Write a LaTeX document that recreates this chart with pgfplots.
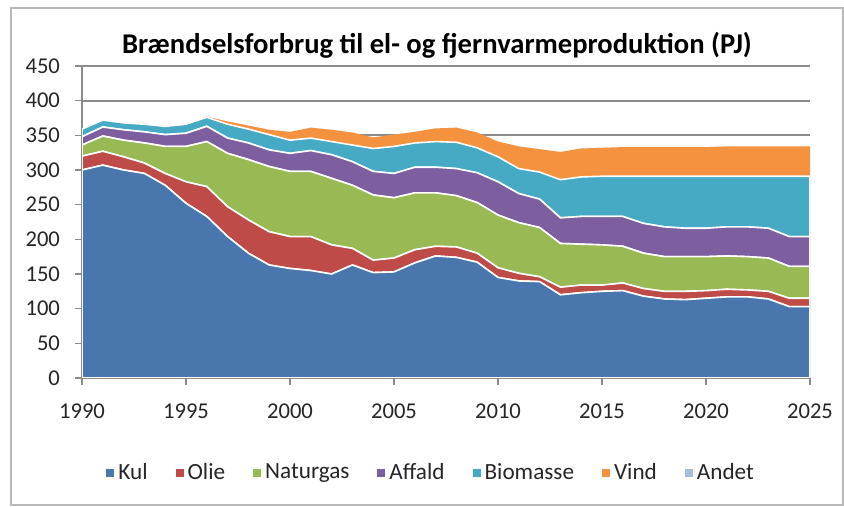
\documentclass[border=0pt]{standalone}
\usepackage{pgfplots}
\usepackage{pgfplotstable}
\pgfplotsset{compat=1.18}
\usepackage{fontspec}
\setmainfont{Carlito}
\definecolor{cKul}{HTML}{4A76AE}
\definecolor{cOlie}{HTML}{BE4B48}
\definecolor{cGas}{HTML}{98B954}
\definecolor{cAff}{HTML}{7D5FA0}
\definecolor{cBio}{HTML}{46AAC5}
\definecolor{cVind}{HTML}{F59240}
\definecolor{cAndet}{HTML}{A5BEDD}
\definecolor{gridc}{HTML}{8C8C8C}
\definecolor{txt}{HTML}{262626}
\pgfplotstableread{
year kul olie gas aff bio vind andet
1990 300 20 16 12 11 0 0
1991 307 20 22 13 10 0 0
1992 300 19 24 15 10 0 0
1993 295 15 29 16 11 0 0
1994 278 17 39 17 12 0 0
1995 252 31 51 19 13 0 0
1996 233 43 65 22 13 1 0
1997 204 43 77 22 20 4 0
1998 180 48 87 24 20 5 0
1999 163 48 94 24 22 7 0
2000 158 46 94 26 19 12 0
2001 155 49 94 30 18 15 0
2002 150 42 96 34 19 17 0
2003 163 24 91 34 24 18 0
2004 152 18 94 34 33 16 0
2005 153 20 87 35 39 17 0
2006 166 19 82 37 35 16 0
2007 176 14 77 37 37 19 0
2008 174 15 74 39 38 21 0
2009 167 13 73 43 36 22 0
2010 145 14 76 48 36 22 0
2011 140 11 73 42 36 32 0
2012 139 7 71 41 39 33 0
2013 120 11 63 37 55 40 0
2014 123 11 59 40 57 41 0
2015 125 9 58 41 58 41 0
2016 126 11 53 43 58 42 0
2017 118 11 51 43 68 42 0
2018 114 11 50 43 73 42 0
2019 113 12 50 41 75 42 0
2020 115 11 49 41 75 42 0
2021 117 11 48 42 73 43 0
2022 117 10 48 43 73 43 0
2023 114 11 48 43 75 43 0
2024 103 12 46 43 87 43 0
2025 103 12 46 43 87 43 0
}\data
\begin{document}
\begin{tikzpicture}
\useasboundingbox (0,0) rectangle (422pt,253.5pt);
\draw[gray!55, line width=1pt] (5.5pt,1pt) rectangle (421.5pt,249.5pt);
\node[font=\bfseries\fontsize{14.3}{16}\selectfont, text=black] at (218.5pt,231pt) {Brændselsforbrug til el- og fjernvarmeproduktion (PJ)};
\begin{axis}[
  at={(41pt,64.5pt)}, anchor=south west,
  scale only axis, width=364pt, height=156pt,
  xmin=1990, xmax=2025, ymin=0, ymax=450,
  xtick={1990,1995,...,2025}, ytick={0,50,...,450},
  stack plots=y,
  axis lines*=left,
  axis line style={gridc, line width=0.8pt},
  tick align=outside,
  major tick length=3.5pt,
  tick style={gridc, line width=0.8pt},
  ymajorgrids, grid style={gridc, line width=0.9pt},
  /pgf/number format/1000 sep={},
  /pgf/number format/assume math mode=true,
  tick label style={font=\fontsize{11.3}{13}\selectfont, text=txt},
  xticklabel style={yshift=-6pt},
  yticklabel style={xshift=-4pt},
  legend style={draw=none, at={(0.481,-0.3045)}, anchor=center,
    legend columns=7, font=\fontsize{11.6}{13}\selectfont, text=txt,
    /tikz/every even column/.append style={column sep=12pt},
    inner sep=0pt},
  legend image code/.code={\fill[#1, draw=none] (0pt,-2pt) rectangle (4pt,2pt);},
]
\addplot[fill=cKul, draw=white, line width=0.8pt] table[x=year,y=kul]{\data} \closedcycle;
\addplot[fill=cOlie, draw=white, line width=0.8pt] table[x=year,y=olie]{\data} \closedcycle;
\addplot[fill=cGas, draw=white, line width=0.8pt] table[x=year,y=gas]{\data} \closedcycle;
\addplot[fill=cAff, draw=white, line width=0.8pt] table[x=year,y=aff]{\data} \closedcycle;
\addplot[fill=cBio, draw=white, line width=0.8pt] table[x=year,y=bio]{\data} \closedcycle;
\addplot[fill=cVind, draw=none] table[x=year,y=vind]{\data} \closedcycle;
\addplot[fill=cAndet, draw=none] table[x=year,y=andet]{\data} \closedcycle;
\legend{Kul,Olie,Naturgas,Affald,Biomasse,Vind,Andet}
\end{axis}
\end{tikzpicture}
\end{document}
